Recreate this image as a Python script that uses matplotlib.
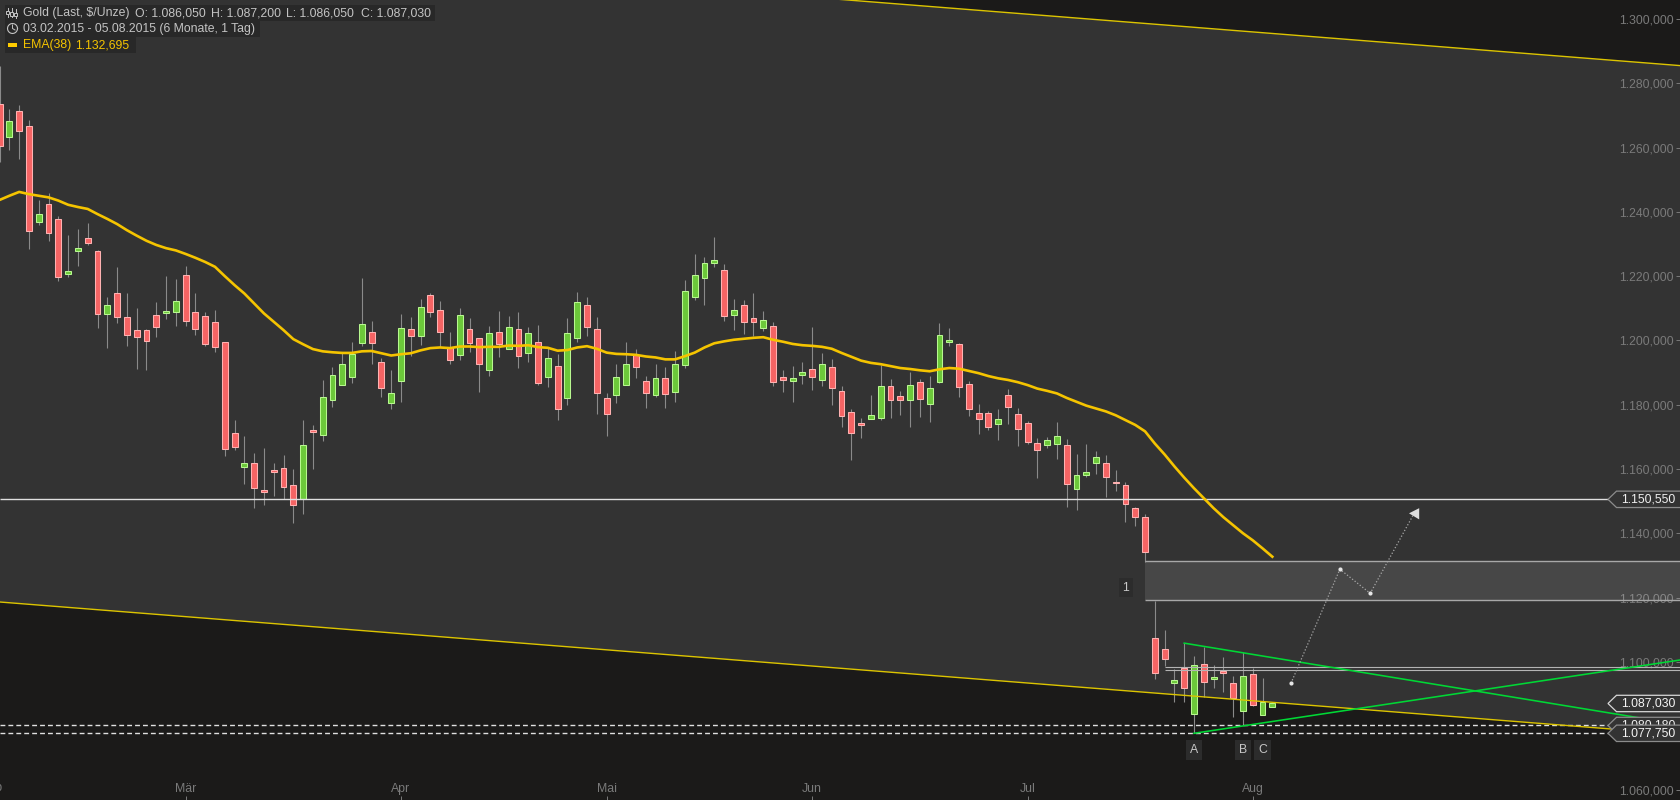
import math
import matplotlib
matplotlib.use("Agg")
import matplotlib.pyplot as plt
from matplotlib.patches import Polygon, Rectangle

plt.rcParams['font.family'] = ['Liberation Sans', 'DejaVu Sans']

opens = [
 1273.4,1263.4,1271.3,1266.6,1236.9,1242.3,1237.7,1220.8,1227.9,1232.0,
 1227.8,1208.3,1214.9,1207.2,1203.1,1203.1,1207.8,1208.6,1208.9,1220.2,
 1208.7,1207.5,1205.6,1199.4,1171.1,1160.7,1161.7,1153.4,1159.7,1160.2,
 1154.9,1150.5,1172.0,1170.7,1181.5,1186.2,1188.7,1199.3,1202.5,1193.2,
 1180.6,1187.4,1203.4,1201.4,1214.0,1209.6,1198.1,1195.5,1203.7,1200.6,
 1190.8,1202.5,1197.4,1203.7,1196.1,1199.4,1188.7,1191.9,1182.1,1200.8,
 1210.9,1203.4,1182.2,1183.1,1186.2,1195.6,1187.5,1183.1,1188.2,1184.0,
 1192.4,1213.6,1219.5,1224.1,1221.8,1208.0,1210.9,1207.1,1203.9,1204.6,
 1188.5,1187.4,1189.3,1191.0,1187.8,1191.7,1184.2,1177.7,1174.2,1175.4,
 1176.0,1185.7,1182.6,1181.6,1187.0,1180.3,1187.2,1199.5,1198.8,1186.4,
 1177.3,1177.3,1174.1,1182.9,1177.0,1174.2,1168.0,1167.3,1167.9,1167.4,
 1153.9,1158.0,1161.7,1161.8,1156.0,1155.0,1147.8,1145.0,1107.3,1103.9,
 1093.5,1098.2,1083.9,1099.2,1094.7,1097.2,1093.3,1084.8,1096.1,1083.6,1086.05]
closes = [
 1260.6,1268.2,1265.0,1234.1,1239.2,1233.5,1219.8,1221.5,1228.6,1230.4,
 1208.3,1210.9,1207.4,1201.8,1201.1,1199.9,1204.2,1209.3,1212.4,1206.1,
 1203.6,1199.0,1198.0,1166.3,1166.9,1161.7,1154.2,1152.9,1159.1,1154.5,
 1148.9,1167.3,1171.5,1182.3,1189.1,1192.8,1195.7,1205.0,1199.3,1185.3,
 1183.5,1204.0,1201.4,1210.5,1208.9,1202.7,1194.0,1207.8,1199.2,1192.7,
 1202.2,1199.0,1204.3,1195.2,1202.2,1186.8,1194.4,1178.7,1202.2,1211.8,
 1204.2,1183.7,1177.2,1188.5,1192.8,1191.8,1183.7,1188.2,1183.4,1192.8,
 1215.5,1220.5,1224.2,1224.9,1207.7,1209.6,1205.8,1205.8,1206.5,1187.1,
 1187.7,1188.2,1190.3,1188.7,1192.6,1185.3,1176.6,1171.3,1173.7,1176.7,
 1185.7,1181.6,1181.3,1186.0,1181.9,1185.1,1201.6,1200.2,1185.6,1178.5,
 1175.4,1173.2,1175.5,1179.4,1172.3,1168.5,1166.0,1168.9,1170.2,1155.2,
 1158.1,1159.0,1163.7,1157.6,1155.7,1149.2,1145.2,1134.3,1096.6,1101.0,
 1094.2,1092.0,1098.9,1093.8,1095.3,1096.6,1088.8,1095.5,1086.7,1087.6,1087.03]
highs = [
 1285.4,1272.0,1273.2,1268.6,1243.7,1245.9,1238.7,1232.8,1234.7,1236.5,
 1228.1,1213.5,1222.8,1214.7,1210.0,1203.5,1212.0,1220.0,1219.1,1223.1,
 1214.7,1208.8,1209.4,1199.4,1175.2,1170.2,1164.9,1166.5,1161.8,1164.3,
 1160.0,1175.2,1173.7,1187.7,1191.7,1196.0,1199.4,1219.4,1206.0,1194.5,
 1190.8,1208.2,1207.3,1213.0,1214.6,1212.2,1202.6,1210.2,1206.9,1200.6,
 1204.4,1209.1,1207.5,1208.8,1204.1,1204.7,1197.5,1195.7,1206.9,1215.0,
 1213.5,1207.2,1183.5,1192.6,1199.5,1197.3,1189.0,1192.8,1191.7,1196.7,
 1218.7,1226.8,1225.9,1232.1,1223.7,1213.0,1212.5,1214.7,1209.1,1205.6,
 1190.7,1192.0,1193.2,1204.2,1196.1,1194.2,1185.8,1178.7,1175.9,1183.0,
 1192.3,1188.0,1184.3,1190.2,1188.0,1189.0,1205.4,1203.9,1199.2,1187.4,
 1180.2,1178.0,1178.7,1184.9,1179.0,1175.0,1169.6,1169.9,1174.6,1169.3,
 1164.7,1167.8,1165.6,1164.4,1159.7,1156.0,1148.2,1146.0,1118.9,1109.9,
 1097.7,1105.8,1101.7,1104.7,1098.9,1101.5,1095.6,1103.0,1098.0,1095.0,1087.2]
lows = [
 1255.5,1259.2,1256.4,1228.5,1236.0,1230.9,1218.5,1219.7,1223.1,1229.7,
 1203.8,1197.7,1205.5,1198.2,1191.2,1190.8,1201.1,1206.6,1204.5,1204.5,
 1201.7,1198.2,1196.5,1164.1,1165.9,1155.3,1147.9,1148.8,1151.6,1150.5,
 1143.2,1146.0,1160.0,1168.7,1179.3,1186.2,1186.7,1198.2,1192.6,1182.4,
 1178.6,1180.8,1195.1,1198.5,1207.2,1198.0,1192.6,1193.9,1196.5,1183.9,
 1188.9,1194.8,1197.4,1191.4,1193.2,1186.1,1185.5,1175.2,1179.9,1199.6,
 1201.3,1177.1,1170.2,1180.5,1186.2,1188.3,1179.0,1182.4,1179.0,1180.8,
 1191.4,1212.5,1211.1,1222.9,1206.0,1203.2,1201.9,1201.3,1203.0,1185.8,
 1183.9,1180.8,1186.4,1184.6,1185.8,1179.9,1173.1,1162.8,1169.7,1175.4,
 1175.3,1175.9,1176.8,1173.1,1176.2,1174.6,1186.8,1198.3,1182.4,1176.5,
 1170.9,1172.2,1169.0,1174.0,1167.2,1167.9,1157.2,1166.4,1163.1,1148.2,
 1147.3,1157.6,1158.5,1151.3,1153.2,1143.5,1142.3,1131.0,1094.6,1098.7,
 1087.5,1087.5,1077.75,1089.2,1091.9,1090.6,1082.8,1080.2,1086.4,1083.3,1086.05]
ema38 = [
 1243.7,1245.0,1246.2,1245.5,1245.0,1244.5,1243.5,1242.2,1241.5,1240.9,
 1239.3,1237.8,1236.2,1234.3,1232.6,1231.0,1229.7,1228.7,1228.0,1226.9,
 1225.7,1224.4,1222.9,1220.0,1217.2,1214.6,1211.5,1208.4,1205.8,1203.2,
 1200.4,1198.8,1197.3,1196.6,1196.3,1196.1,1196.1,1196.6,1196.7,1196.0,
 1195.3,1195.7,1196.0,1196.9,1197.6,1197.8,1197.6,1198.1,1198.1,1197.9,
 1198.0,1198.0,1198.4,1198.3,1198.5,1197.9,1197.7,1196.8,1197.0,1197.8,
 1198.2,1197.4,1196.2,1195.8,1195.7,1195.5,1195.0,1194.7,1194.1,1194.1,
 1195.1,1196.2,1197.8,1199.1,1199.7,1200.2,1200.5,1200.8,1201.0,1200.2,
 1199.6,1198.9,1198.5,1198.3,1198.0,1197.4,1196.1,1194.9,1193.7,1193.0,
 1192.6,1192.0,1191.4,1191.1,1190.7,1190.4,1191.0,1191.4,1191.2,1190.5,
 1189.8,1188.9,1188.2,1187.7,1187.0,1186.1,1185.0,1184.3,1183.5,1182.1,
 1180.9,1179.7,1178.8,1177.9,1176.7,1175.2,1173.7,1171.7,1167.9,1164.5,
 1160.8,1157.3,1154.0,1150.9,1147.8,1145.0,1142.5,1140.0,1137.8,1135.3,1132.7]

price_ticks = [1300, 1280, 1260, 1240, 1220, 1200, 1180, 1160, 1140, 1120, 1100, 1060]
price_labels = ['1.300,000', '1.280,000', '1.260,000', '1.240,000', '1.220,000', '1.200,000',
                '1.180,000', '1.160,000', '1.140,000', '1.120,000', '1.100,000', '1.060,000']
month_pos = [19, 41, 62, 83, 105, 128]
month_labels = ['Mär', 'Apr', 'Mai', 'Jun', 'Jul', 'Aug']
channel_x = [0.04, 171.64]
channel_upper = [1326.7, 1285.5]
channel_lower = [1118.6, 1077.4]
support_level = 1150.55
zone_low, zone_high = 1119.1, 1131.4
double_levels = [1098.3, 1097.3]
low_levels = [1080.18, 1077.75]
tri_fall_x, tri_fall_y = [121, 167.6], [1105.8, 1082.5]
tri_rise_x, tri_rise_y = [122, 171.64], [1077.75, 1100.56]
path_x = [131.9, 136.9, 140.0, 144.5]
path_y = [1093.3, 1128.8, 1121.3, 1146.3]
arrow_x = [143.96, 145.0, 145.0]
arrow_y = [1146.2, 1147.8, 1144.3]
marks = [('1', 115.05, 1123.1), ('A', 122, 1072.6), ('B', 127, 1072.6), ('C', 129, 1072.6)]

W, H = 1680, 800
FS = 8.85
DARK, PANEL = '#1b1a19', '#333333'
fig = plt.figure(figsize=(W / 100, H / 100), dpi=100, facecolor=DARK)
ax = fig.add_axes([0, 0, 1, 1], facecolor=DARK)
ax.set_xlim(0.041, 171.64)
ax.set_ylim(1057.0, 1305.91)
for s in ax.spines.values():
    s.set_visible(False)

idx = list(range(len(opens)))

# channel
ax.fill_between(channel_x, channel_lower, channel_upper, color=PANEL, lw=0, zorder=0.5)

# axes
ax.yaxis.tick_right()
ax.set_yticks(price_ticks, price_labels)
ax.tick_params(axis='y', direction='in', length=3.2, width=0.72, pad=-4.4,
               color='#777777', labelcolor='#7a7a7a', labelsize=FS)
for t in ax.get_yticklabels():
    t.set_ha('right')
ax.set_xticks(month_pos, month_labels)
ax.tick_params(axis='x', direction='in', length=2.9, width=0.72, pad=-12.5,
               color='#777777', labelcolor='#7a7a7a', labelsize=FS)
ax.text(-8 / W, 1 - 788 / H, 'Feb', transform=ax.transAxes, ha='center', va='center',
        color='#7a7a7a', fontsize=FS)

# candles
ax.vlines(idx, lows, highs, color='#8a8a8a', lw=0.8, zorder=2)
for i in idx:
    up = closes[i] >= opens[i]
    fc, ec = ('#6cc83a', '#b8f890') if up else ('#f56464', '#ffb2b2')
    ax.bar(i, closes[i] - opens[i], bottom=opens[i], width=0.6, color=fc, edgecolor=ec,
           linewidth=0.75, zorder=2.5)

# zone
ax.add_patch(Rectangle((116.95, zone_low), 60, zone_high - zone_low, fc=(1, 1, 1, 0.1),
                       ec='none', zorder=3))
ax.hlines([zone_low, zone_high], 116.95, 172, color='#a8a8a8', lw=1.0, zorder=3.1)

# levels
ax.hlines(double_levels, 119, 172, color='#b4b4b4', lw=0.8, zorder=3.2)
ax.hlines(support_level, 0, 165, color='#e0e0e0', lw=1.0, zorder=3.2)
ax.hlines(low_levels, 0, 165, color='#e0e0e0', lw=1.0, linestyles=(0, (3.5, 2.2)), zorder=3.2)

# channel lines and triangle
for yy in (channel_upper, channel_lower):
    ax.plot(channel_x, yy, color='#dcc400', lw=1.0, zorder=3.4)
ax.plot(tri_fall_x, tri_fall_y, color='#00d835', lw=1.15, zorder=3.5)
ax.plot(tri_rise_x, tri_rise_y, color='#00d835', lw=1.15, zorder=3.5)

# EMA
ax.plot(idx, ema38, color='#f5c400', lw=1.9, zorder=4, solid_joinstyle='round')

# projected path
ax.plot(path_x, path_y, color='#a8a8a8', lw=0.9, ls=(0, (1, 1.6)), zorder=4.5)
ax.plot(path_x[:3], path_y[:3], ls='none', marker='o', ms=3, color='#e6e6e6', mew=0, zorder=4.6)
ax.add_patch(Polygon(list(zip(arrow_x, arrow_y)), closed=True, fc='#dedede', ec='none', zorder=4.6))

# wave labels
for s, x, y in marks:
    ax.text(x, y, s, ha='center', va='center', color='#c8c8c8', fontsize=FS, zorder=5,
            bbox=dict(boxstyle='square,pad=0.32', fc='#2c2c2c', ec='none'))

# price tags
ty = ax.get_yaxis_transform()
def tag(price, label, edge, txt, z):
    a, b = 1608 / W, 1616.5 / W
    d = 2.55
    ax.add_patch(Polygon([(a, price), (b, price + d), (1.01, price + d), (1.01, price - d), (b, price - d)],
                         closed=True, transform=ty, fc=PANEL, ec=edge, lw=0.9, zorder=z, clip_on=True))
    ax.text(1675 / W, price, label, transform=ty, ha='right', va='center', color=txt,
            fontsize=FS, zorder=z + 0.05)
tag(1150.55, '1.150,550', '#8c8c8c', '#f0f0f0', 6)
tag(1087.03, '1.087,030', '#d8d8d8', '#f4f4f4', 6)
tag(1080.18, '1.080,180', '#8c8c8c', '#f0f0f0', 6.1)
tag(1077.75, '1.077,750', '#8c8c8c', '#f4f4f4', 6.2)

# header (pixel layout)
def px(x, y):
    return x / W, 1 - y / H
pt = ax.transAxes
def row(x1, y0, y1):
    ax.add_patch(Rectangle(px(5, y1), (x1 - 5) / W, (y1 - y0) / H, transform=pt,
                           fc='#282828', ec='none', zorder=7))
row(435, 5, 20.7)
row(260, 20.7, 36.7)
row(136, 36.7, 52.7)
def hdr(x, y, s, c='#c4c4c4'):
    xx, yy = px(x, y)
    ax.text(xx, yy, s, transform=pt, ha='left', va='center', color=c, fontsize=FS, zorder=8)
hdr(23.3, 13, 'Gold (Last, $/Unze)')
hdr(134.7, 13, 'O: 1.086,050')
hdr(210.7, 13, 'H: 1.087,200')
hdr(286, 13, 'L: 1.086,050')
hdr(360.7, 13, 'C: 1.087,030')
hdr(23.3, 29, '03.02.2015 - 05.08.2015 (6 Monate, 1 Tag)')
hdr(23.3, 45, 'EMA(38)', '#f5c400')
hdr(75.3, 45, '1.132,695', '#f5c400')

# header icons
for x, y0, y1, b0, b1 in [(7.5, 8, 17, 11, 14), (11.5, 7.5, 17, 12.5, 15.5), (15.5, 9, 17.5, 13, 16)]:
    ax.plot(*zip(px(x, y0), px(x, y1)), transform=pt, color='#c4c4c4', lw=0.7, zorder=8)
    ax.add_patch(Rectangle(px(x - 1.2, b1), 2.4 / W, (b1 - b0) / H, transform=pt, fc='#282828',
                           ec='#c4c4c4', lw=0.7, zorder=8.1))
cx, cy, r = 12.5, 28.5, 5
ax.plot(*zip(*[px(cx + r * math.cos(a / 20 * 2 * math.pi), cy + r * math.sin(a / 20 * 2 * math.pi))
               for a in range(21)]), transform=pt, color='#c4c4c4', lw=0.8, zorder=8)
ax.plot(*zip(px(cx, cy - 3.5), px(cx, cy), px(cx + 2.5, cy + 1.5)), transform=pt, color='#c4c4c4', lw=0.7, zorder=8)
ax.add_patch(Rectangle(px(8, 46.5), 8.5 / W, 3 / H, transform=pt, fc='#ffcc00', ec='none', zorder=8))

fig.savefig('out.png', dpi=100, facecolor=DARK)
